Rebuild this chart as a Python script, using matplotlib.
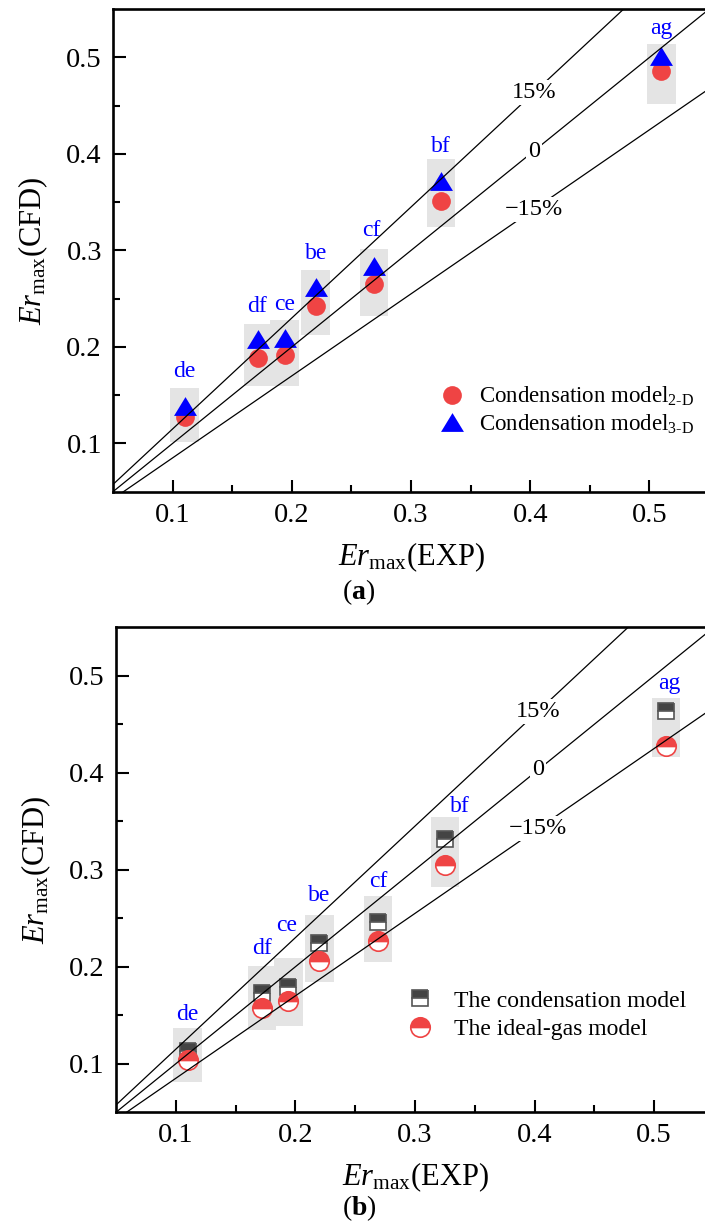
import matplotlib
matplotlib.use('Agg')
import matplotlib.pyplot as plt
from matplotlib.path import Path
import numpy as np

plt.rcParams['font.family'] = ['Liberation Serif', 'DejaVu Serif']
plt.rcParams['mathtext.fontset'] = 'custom'
plt.rcParams['mathtext.rm'] = 'Liberation Serif'
plt.rcParams['mathtext.it'] = 'Liberation Serif:italic'
plt.rcParams['mathtext.bf'] = 'Liberation Serif:bold'

# cases and measured maximum Er
cases = ['de', 'df', 'ce', 'be', 'cf', 'bf', 'ag']
er_exp = [0.110, 0.172, 0.194, 0.220, 0.269, 0.325, 0.510]

# (a) condensation model, 2-D vs 3-D
cfd_2d = [0.127, 0.189, 0.192, 0.242, 0.265, 0.351, 0.486]
cfd_3d = [0.139, 0.208, 0.209, 0.262, 0.284, 0.372, 0.501]
band_a_low = [0.101, 0.160, 0.160, 0.212, 0.232, 0.324, 0.452]
band_a_high = [0.157, 0.224, 0.228, 0.280, 0.302, 0.395, 0.514]

# (b) condensation vs ideal-gas model
cfd_cond = [0.113, 0.173, 0.179, 0.224, 0.246, 0.332, 0.464]
cfd_ideal = [0.104, 0.158, 0.165, 0.206, 0.227, 0.305, 0.428]
band_b_low = [0.081, 0.135, 0.139, 0.184, 0.205, 0.282, 0.416]
band_b_high = [0.137, 0.201, 0.209, 0.253, 0.273, 0.354, 0.477]

dev_levels = [0.15, 0.0, -0.15]
dev_labels = ['15%', '0', '\u221215%']

ER_CFD = r'$\mathit{Er}_{\mathrm{max}}$(CFD)'
ER_EXP = r'$\mathit{Er}_{\mathrm{max}}$(EXP)'

# triangle a bit wider than tall
tri = Path([(0, 0.82), (-1, -0.82), (1, -0.82), (0, 0.82)],
           [Path.MOVETO, Path.LINETO, Path.LINETO, Path.CLOSEPOLY])

fig = plt.figure(figsize=(7.05, 12.27), dpi=100)
ax_a = fig.add_axes([0.1603, 0.5993, 0.8454, 0.3932])
ax_b = fig.add_axes([0.1645, 0.0935, 0.8482, 0.3953])


def style_axes(ax):
    ax.set_xlim(0.05, 0.55)
    ax.set_ylim(0.05, 0.55)
    ax.set_xticks([0.1, 0.2, 0.3, 0.4, 0.5])
    ax.set_yticks([0.1, 0.2, 0.3, 0.4, 0.5])
    ax.set_xticks(np.arange(0.15, 0.55, 0.1), minor=True)
    ax.set_yticks(np.arange(0.15, 0.55, 0.1), minor=True)
    ax.tick_params(which='major', direction='in', length=9, width=1.5,
                   labelsize=20.5, pad=8)
    ax.tick_params(which='minor', direction='in', length=5, width=1.5)
    for s in ax.spines.values():
        s.set_linewidth(1.9)
    ax.set_xlabel(ER_EXP, fontsize=22, labelpad=9)
    ax.set_ylabel(ER_CFD, fontsize=22, labelpad=12)


def deviation_lines(ax):
    xx = np.array([0.05, 0.55])
    for d, lab in zip(dev_levels, dev_labels):
        ax.plot(xx, (1 + d) * xx, color='black', lw=0.9, zorder=4)
        xl = 0.403
        ax.text(xl, (1 + d) * xl, lab, fontsize=17.5, ha='center', va='center',
                zorder=5, bbox=dict(facecolor='white', edgecolor='none', pad=1.5))


def case_labels(ax, tops, offsets):
    for x, top, name, (dx, dy) in zip(er_exp, tops, cases, offsets):
        ax.annotate(name, (x, top), xytext=(dx, dy), textcoords='offset points',
                    ha='center', va='center', fontsize=17, color='blue', zorder=6)


# ---- (a) ----
style_axes(ax_a)
ax_a.bar(er_exp, np.subtract(band_a_high, band_a_low), bottom=band_a_low,
         width=0.024, color='#e4e4e4', zorder=1)
ax_a.plot(er_exp, cfd_2d, 'o', ms=13.5, color='#ef4444', mec='none', zorder=2,
          label=r'Condensation model$_{\mathrm{2\text{-}D}}$')
ax_a.plot(er_exp, cfd_3d, marker=tri, ls='none', ms=16.5, color='blue',
          mec='none', zorder=3, label=r'Condensation model$_{\mathrm{3\text{-}D}}$')
deviation_lines(ax_a)
case_labels(ax_a, band_a_high,
            [(0, 12.5), (-1, 12.5), (0, 11), (0, 11.5), (-2, 13), (0, 8.5), (0, 11)])
ax_a.legend(loc='center left', bbox_to_anchor=(0.55, 0.169), frameon=False,
            fontsize=16.5, handlelength=1.0, handletextpad=0.65,
            borderpad=0, borderaxespad=0, labelspacing=0.2)
fig.text(0.508, 1 - 592 / 1227, r'($\mathbf{a}$)', fontsize=20,
         ha='center', va='center')

# ---- (b) ----
style_axes(ax_b)
ax_b.bar(er_exp, np.subtract(band_b_high, band_b_low), bottom=band_b_low,
         width=0.024, color='#e4e4e4', zorder=1)
ax_b.plot(er_exp, cfd_cond, 's', ms=12, fillstyle='top', color='#444444',
          markerfacecoloralt='white', mec='#555555', mew=1.2, zorder=2,
          label='The condensation model')
ax_b.plot(er_exp, cfd_ideal, 'o', ms=14, fillstyle='top', color='#ef4444',
          markerfacecoloralt='white', mec='#ef4444', mew=1.2, zorder=3,
          label='The ideal-gas model')
deviation_lines(ax_b)
case_labels(ax_b, band_b_high,
            [(0, 9.5), (0, 12.5), (-1, 23.5), (0, 14.5), (0, 10.5), (11, 7.5), (2, 10.5)])
ax_b.legend(loc='center left', bbox_to_anchor=(0.489, 0.2), frameon=False,
            fontsize=17, handlelength=1.0, handletextpad=0.94,
            borderpad=0, borderaxespad=0, labelspacing=0.3)
fig.text(0.51, 1 - 1208 / 1227, r'($\mathbf{b}$)', fontsize=20,
         ha='center', va='center')

fig.savefig('out.png', dpi=100)
